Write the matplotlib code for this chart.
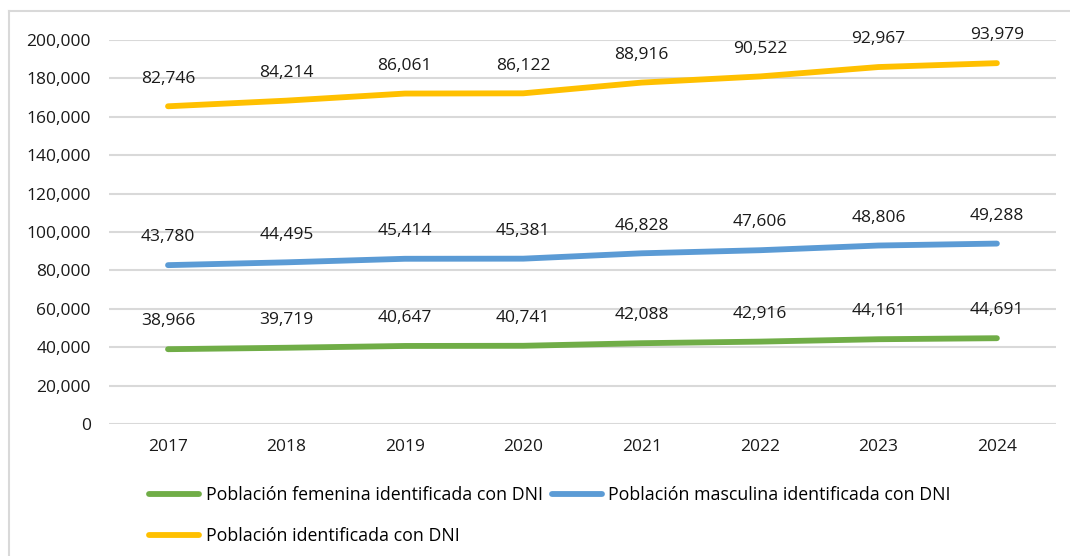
import matplotlib.pyplot as plt
from matplotlib.lines import Line2D

years = ['2017', '2018', '2019', '2020', '2021', '2022', '2023', '2024']
femenina = [38966, 39719, 40647, 40741, 42088, 42916, 44161, 44691]
masculina = [43780, 44495, 45414, 45381, 46828, 47606, 48806, 49288]
total = [82746, 84214, 86061, 86122, 88916, 90522, 92967, 93979]

names = ['Población femenina identificada con DNI',
         'Población masculina identificada con DNI',
         'Población identificada con DNI']
colors = ['#70AD47', '#5B9BD5', '#FFC000']

plt.rcParams['font.family'] = ['Open Sans', 'DejaVu Sans']
plt.rcParams['font.size'] = 12.5

fig = plt.figure(figsize=(10.7, 5.56), dpi=100)
ax = fig.add_axes([0.1017, 0.2374, 0.8853, 0.6906])

# stacked line chart: each series is drawn on top of the previous ones
x = list(range(len(years)))
base = [0] * len(years)
handles = []
for vals, name, c in zip([femenina, masculina, total], names, colors):
    stacked = [b + v for b, v in zip(base, vals)]
    h, = ax.plot(x, stacked, color=c, lw=4.2, solid_capstyle='round', label=name, zorder=3)
    handles.append(h)
    for xi, yi, v in zip(x, stacked, vals):
        ax.annotate(f'{v:,}', xy=(xi, yi), xytext=(0, 20), textcoords='offset points',
                    ha='center', va='center', color='#1a1a1a', zorder=4)
    base = stacked

ax.set_xlim(-0.5, len(years) - 0.5)
ax.set_ylim(0, 200000)
ax.set_yticks(range(0, 200001, 20000))
ax.set_yticklabels([f'{t:,}' for t in range(0, 200001, 20000)])
ax.set_xticks(x)
ax.set_xticklabels(years)
ax.grid(axis='y', color='#D9D9D9', lw=1.5)
ax.set_axisbelow(True)
for s in ax.spines.values():
    s.set_visible(False)
ax.tick_params(axis='both', length=0, colors='#1a1a1a')
ax.tick_params(axis='y', pad=13)
ax.tick_params(axis='x', pad=11)

order = [handles[0], handles[2], handles[1]]
fig.legend(handles=order, labels=[h.get_label() for h in order], ncol=2,
           loc='upper left', bbox_to_anchor=(0.139, 0.125), frameon=False,
           fontsize=12.8, handlelength=2.85, handletextpad=0.35, columnspacing=0.5,
           labelspacing=1.25, borderaxespad=0, borderpad=0)

# chart area border (left and top visible)
fig.add_artist(Line2D([9 / 1070, 9 / 1070], [0, 1 - 11 / 556], transform=fig.transFigure,
                      color='#D9D9D9', lw=1.5))
fig.add_artist(Line2D([9 / 1070, 1], [1 - 11 / 556, 1 - 11 / 556], transform=fig.transFigure,
                      color='#D9D9D9', lw=1.5))

fig.savefig('out.png', dpi=100)
